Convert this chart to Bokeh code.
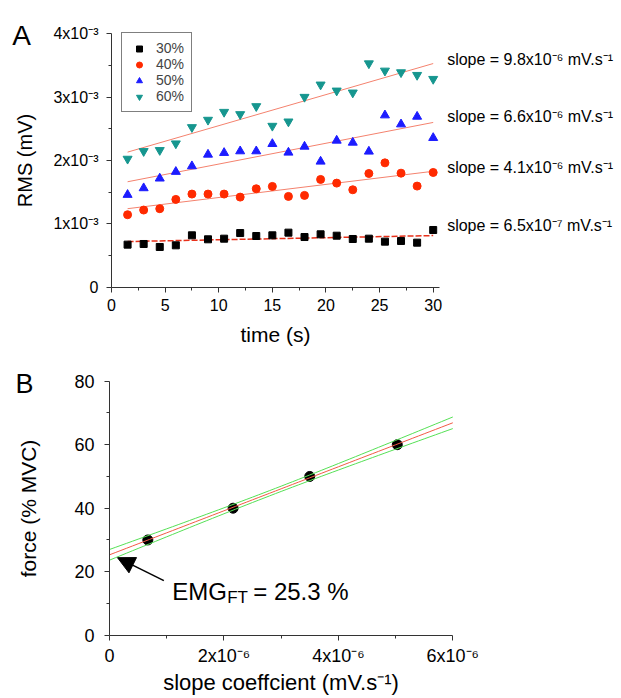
import numpy as np
from bokeh.plotting import figure
from bokeh.models import (FixedTicker, Legend, LegendItem, Label, Arrow,
                          NormalHead, Range1d)
from bokeh.layouts import column
from bokeh.embed import file_html
from bokeh.resources import INLINE

FONT = "Liberation Sans"

# ---------------- Panel A data ----------------
time_s = [1.5, 3.0, 4.5, 6.0, 7.5, 9.0, 10.5, 12.0, 13.5, 15.0,
          16.5, 18.0, 19.5, 21.0, 22.5, 24.0, 25.5, 27.0, 28.5, 30.0]
rms_30 = [0.672e-3, 0.682e-3, 0.635e-3, 0.661e-3, 0.819e-3, 0.756e-3, 0.766e-3, 0.855e-3, 0.808e-3, 0.819e-3,
          0.861e-3, 0.792e-3, 0.835e-3, 0.813e-3, 0.761e-3, 0.766e-3, 0.719e-3, 0.730e-3, 0.703e-3, 0.903e-3]
rms_40 = [1.144e-3, 1.218e-3, 1.239e-3, 1.386e-3, 1.470e-3, 1.470e-3, 1.470e-3, 1.422e-3, 1.554e-3, 1.591e-3,
          1.433e-3, 1.449e-3, 1.701e-3, 1.643e-3, 1.538e-3, 1.795e-3, 1.963e-3, 1.800e-3, 1.596e-3, 1.811e-3]
rms_50 = [1.459e-3, 1.564e-3, 1.717e-3, 1.822e-3, 1.911e-3, 2.094e-3, 2.121e-3, 2.147e-3, 2.147e-3, 2.262e-3,
          2.126e-3, 2.220e-3, 1.984e-3, 2.315e-3, 2.283e-3, 2.142e-3, 2.714e-3, 2.572e-3, 2.693e-3, 2.357e-3]
rms_60 = [2.026e-3, 2.147e-3, 2.163e-3, 2.268e-3, 2.525e-3, 2.641e-3, 2.766e-3, 2.730e-3, 2.856e-3, 2.546e-3,
          2.614e-3, 3.003e-3, 3.197e-3, 3.102e-3, 3.071e-3, 3.532e-3, 3.417e-3, 3.391e-3, 3.349e-3, 3.286e-3]
series_names = ["30%", "40%", "50%", "60%"]
slope_texts = ["slope = 6.5x10\u207b\u2077 mV.s\u207b\u00b9",
               "slope = 4.1x10\u207b\u2076 mV.s\u207b\u00b9",
               "slope = 6.6x10\u207b\u2076 mV.s\u207b\u00b9",
               "slope = 9.8x10\u207b\u2076 mV.s\u207b\u00b9"]
slope_text_y = [0.976e-3, 1.894e-3, 2.693e-3, 3.600e-3]
a_yticks = [0, 1e-3, 2e-3, 3e-3, 4e-3]
a_ytick_labels = ["0", "1x10\u207b\u00b3", "2x10\u207b\u00b3", "3x10\u207b\u00b3", "4x10\u207b\u00b3"]
a_xticks = [0, 5, 10, 15, 20, 25, 30]

# ---------------- Panel B data ----------------
slope_coef = [0.67e-6, 2.16e-6, 3.50e-6, 5.03e-6]
force_mvc = [30, 40, 50, 60]
b_xticks = [0, 2e-6, 4e-6, 6e-6]
b_xtick_labels = ["0", "2x10\u207b\u2076", "4x10\u207b\u2076", "6x10\u207b\u2076"]
b_yticks = [0, 20, 40, 60, 80]
emg_ft_text = "25.3 %"

W = 621
HA = 352
HB = 346


def style_axes(p, tick_size="16px", label_size="20px"):
    p.outline_line_color = None
    p.xgrid.grid_line_color = None
    p.ygrid.grid_line_color = None
    p.background_fill_color = "white"
    p.border_fill_color = "white"
    p.title.visible = False
    for ax in p.axis:
        ax.fixed_location = 0
        ax.axis_line_color = "#333333"
        ax.axis_line_width = 1
        ax.major_tick_line_color = "#333333"
        ax.minor_tick_line_color = "#333333"
        ax.major_tick_in = 0
        ax.major_tick_out = 5
        ax.minor_tick_in = 0
        ax.minor_tick_out = 3
        ax.major_label_text_font = FONT
        ax.major_label_text_font_size = tick_size
        ax.major_label_text_color = "black"
        ax.axis_label_text_font = FONT
        ax.axis_label_text_font_style = "normal"
        ax.axis_label_text_font_size = label_size
        ax.axis_label_text_color = "black"


# ================= Panel A =================
# pixel geometry of the axes inside the canvas (frame covers the whole canvas)
ax0, ax30 = 111.0, 432.7
ay0, ay4 = 286.7, 33.3
sxA = (ax30 - ax0) / 30.0
syA = (ay0 - ay4) / 4e-3
pA = figure(width=W, height=HA,
            x_range=Range1d(-ax0 / sxA, (W - ax0) / sxA),
            y_range=Range1d((ay0 - HA) / syA, ay0 / syA),
            output_backend="svg", toolbar_location=None,
            min_border=0, min_border_left=0, min_border_right=0,
            min_border_top=0, min_border_bottom=0)
style_axes(pA, tick_size="16px", label_size="20px")
pA.xaxis.bounds = (0, 30.6)
pA.yaxis.bounds = (0, 4e-3)
pA.xaxis.ticker = FixedTicker(ticks=a_xticks, minor_ticks=[2.5, 7.5, 12.5, 17.5, 22.5, 27.5])
pA.yaxis.ticker = FixedTicker(ticks=a_yticks, minor_ticks=[0.5e-3, 1.5e-3, 2.5e-3, 3.5e-3])
pA.yaxis.major_label_overrides = dict(zip(a_yticks, a_ytick_labels))
pA.xaxis.axis_label = "time (s)"
pA.yaxis.axis_label = "RMS (mV)"
pA.xaxis.axis_label_text_font_size = "21px"
pA.yaxis.axis_label_text_font_size = "20px"
pA.xaxis.major_label_standoff = 7
pA.xaxis.axis_label_standoff = 8
pA.yaxis.major_label_standoff = 8
pA.yaxis.axis_label_standoff = 14

series = [rms_30, rms_40, rms_50, rms_60]
markers = ["square", "circle", "triangle", "inverted_triangle"]
colors = ["black", "#ff2a00", "#1c1cff", "#16968f"]
sizes = [7, 8, 9, 9]
t = np.array(time_s)
renderers = []
for vals, mk, col, sz in zip(series, markers, colors, sizes):
    slope, icpt = np.polyfit(t, np.array(vals), 1)
    xf = np.array([t[0], t[-1]])
    if mk == "square":
        pA.line(xf, icpt + slope * xf, line_color="#e8301a", line_width=1.5, line_dash="6 2")
    else:
        pA.line(xf, icpt + slope * xf, line_color="#f4826e", line_width=1)
    r = pA.scatter(time_s, vals, marker=mk, size=sz, fill_color=col, line_color=col)
    renderers.append(r)

legend = Legend(items=[LegendItem(label=n, renderers=[r]) for n, r in zip(series_names, renderers)],
                location=(121, 240), border_line_color="black", border_line_width=1,
                padding=7, spacing=0, glyph_width=20, glyph_height=15, label_height=15,
                label_standoff=7, label_text_font=FONT, label_text_font_size="14px",
                margin=0, background_fill_alpha=1.0)
pA.add_layout(legend)

for txt, yv in zip(slope_texts, slope_text_y):
    pA.add_layout(Label(x=31.3, y=yv, text=txt, text_font=FONT, text_font_size="16px",
                        text_baseline="middle", text_align="left", text_color="black"))

pA.add_layout(Label(x=-9.25, y=3.969e-3, text="A", text_font=FONT, text_font_size="28px",
                    text_baseline="alphabetic", text_align="left", text_color="black"))

# ================= Panel B =================
bx0, bx6 = 109.0, 452.3
by0, by80 = 634.7 - HA, 380.7 - HA
sxB = (bx6 - bx0) / 6e-6
syB = (by0 - by80) / 80.0
pB = figure(width=W, height=HB,
            x_range=Range1d(-bx0 / sxB, (W - bx0) / sxB),
            y_range=Range1d((by0 - HB) / syB, by0 / syB),
            output_backend="svg", toolbar_location=None,
            min_border=0, min_border_left=0, min_border_right=0,
            min_border_top=0, min_border_bottom=0)
style_axes(pB, tick_size="18px", label_size="21px")
pB.xaxis.bounds = (0, 6e-6)
pB.yaxis.bounds = (0, 80)
pB.xaxis.ticker = FixedTicker(ticks=b_xticks, minor_ticks=[1e-6, 3e-6, 5e-6])
pB.yaxis.ticker = FixedTicker(ticks=b_yticks, minor_ticks=[10, 30, 50, 70])
pB.xaxis.major_label_overrides = dict(zip(b_xticks, b_xtick_labels))
pB.xaxis.axis_label = "slope coeffcient (mV.s\u207b\u00b9)"
pB.yaxis.axis_label = "force (% MVC)"
pB.xaxis.axis_label_text_font_size = "22px"
pB.xaxis.major_label_standoff = 6
pB.xaxis.axis_label_standoff = 0
pB.yaxis.major_label_standoff = 10
pB.yaxis.axis_label_standoff = 31

xb = np.array(slope_coef)
yb = np.array(force_mvc, dtype=float)
pB.scatter(slope_coef, force_mvc, marker="circle", size=10, fill_color="black", line_color="black")

bslope, bicpt = np.polyfit(xb, yb, 1)
n = len(xb)
resid = yb - (bicpt + bslope * xb)
s_err = np.sqrt(np.sum(resid ** 2) / (n - 2))
sxx = np.sum((xb - xb.mean()) ** 2)
t_crit = 4.303  # 95 %, 2 dof
xg = np.linspace(0, 6e-6, 61)
yfit = bicpt + bslope * xg
half = t_crit * s_err * np.sqrt(1.0 / n + (xg - xb.mean()) ** 2 / sxx)
pB.line(xg, yfit + half, line_color="#55e055", line_width=1)
pB.line(xg, yfit - half, line_color="#55e055", line_width=1)
pB.line(xg, yfit, line_color="#f25a45", line_width=1)

pB.add_layout(Arrow(end=NormalHead(size=17, fill_color="black", line_color="black"),
                    x_start=0.95e-6, y_start=17.2, x_end=0.14e-6, y_end=bicpt - 0.9,
                    line_color="black", line_width=1.5))

lab_x = 1.096e-6
lab_y = 13.8
pB.add_layout(Label(x=lab_x, y=lab_y, text="EMG", text_font=FONT, text_font_size="24px",
                    text_baseline="alphabetic", text_color="black"))
pB.add_layout(Label(x=lab_x, y=lab_y, x_offset=55, y_offset=-6, text="FT", text_font=FONT,
                    text_font_size="17px", text_baseline="alphabetic", text_color="black"))
pB.add_layout(Label(x=lab_x, y=lab_y, x_offset=81, text="= " + emg_ft_text, text_font=FONT,
                    text_font_size="24px", text_baseline="alphabetic", text_color="black"))

pB.add_layout(Label(x=-1.643e-6, y=79.1, text="B", text_font=FONT, text_font_size="27px",
                    text_baseline="alphabetic", text_align="left", text_color="black"))

layout = column(pA, pB, spacing=0)
open("out.html", "w").write(file_html(layout, INLINE))
